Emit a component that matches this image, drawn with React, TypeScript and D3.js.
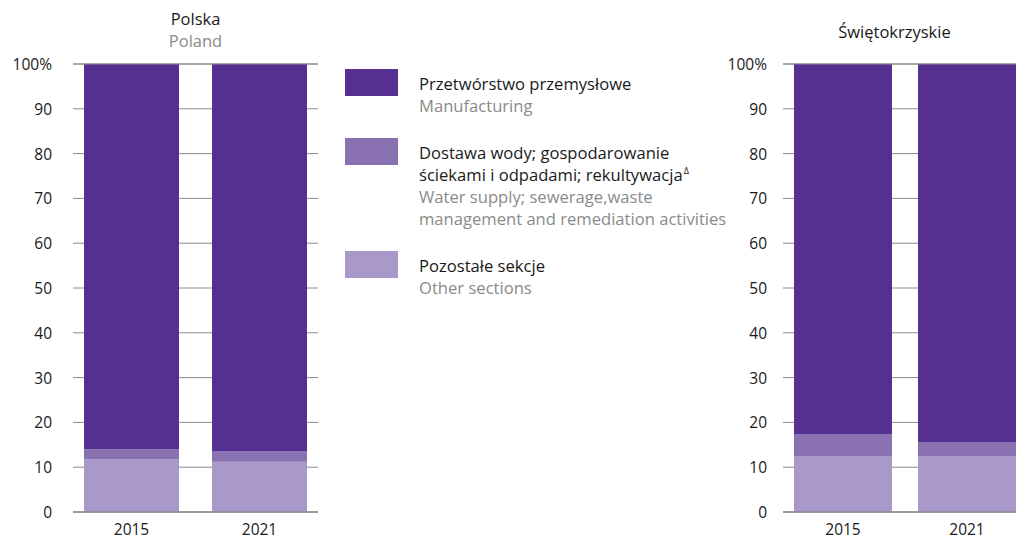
import React from "react";
import * as d3 from "d3";

const categories = ["2015", "2021"];
const seriesKeys = ["other", "water", "manufacturing"];
const polskaOther = [11.8, 11.2];
const polskaWater = [2.2, 2.4];
const polskaManufacturing = [86.0, 86.4];
const swietokrzyskieOther = [12.5, 12.5];
const swietokrzyskieWater = [4.8, 3.1];
const swietokrzyskieManufacturing = [82.7, 84.4];
const yTicks = [0, 10, 20, 30, 40, 50, 60, 70, 80, 90, 100];
const tickLabels = ["0", "10", "20", "30", "40", "50", "60", "70", "80", "90", "100%"];

const legendItems = [
  { key: "manufacturing", pl: ["Przetwórstwo przemysłowe"], en: ["Manufacturing"] },
  {
    key: "water",
    pl: ["Dostawa wody; gospodarowanie", "ściekami i odpadami; rekultywacja"],
    en: ["Water supply; sewerage,waste", "management and remediation activities"],
  },
  { key: "other", pl: ["Pozostałe sekcje"], en: ["Other sections"] },
];

const colors: Record<string, string> = {
  manufacturing: "#553090",
  water: "#8a72b2",
  other: "#a998ca",
};

const FONT = "'Open Sans', 'Noto Sans', sans-serif";
const GRID = "#8c8c8c";
const GREY_TEXT = "#8a8a8a";
const TEXT = "#1a1a1a";

function buildRows(other: number[], water: number[], manuf: number[]) {
  return categories.map((c, i) => ({
    cat: c,
    other: other[i],
    water: water[i],
    manufacturing: manuf[i],
  }));
}

const y = d3.scaleLinear().domain([0, 100]).range([512, 64]);

function Panel({
  rows,
  r0,
  r1,
  paddingInner,
  paddingOuter,
  labelX,
}: {
  rows: any[];
  r0: number;
  r1: number;
  paddingInner: number;
  paddingOuter: number;
  labelX: number;
}) {
  const x = d3
    .scaleBand()
    .domain(categories)
    .range([r0, r1])
    .paddingInner(paddingInner)
    .paddingOuter(paddingOuter);
  const stacked = d3.stack().keys(seriesKeys)(rows as any);
  return (
    <g>
      {yTicks.map((t) => (
        <line key={t} x1={r0} x2={r1} y1={y(t)} y2={y(t)} stroke={GRID} strokeWidth={1} />
      ))}
      {stacked.map((s: any) => (
        <g key={s.key} fill={colors[s.key]}>
          {s.map((d: any, i: number) => (
            <rect
              key={i}
              x={x(d.data.cat)}
              width={x.bandwidth()}
              y={y(d[1])}
              height={y(d[0]) - y(d[1])}
            />
          ))}
        </g>
      ))}
      <line x1={r0} x2={r1} y1={y(0)} y2={y(0)} stroke={GRID} strokeWidth={1.5} />
      <line x1={r0} x2={r1} y1={y(100)} y2={y(100)} stroke={GRID} strokeWidth={1} />
      {yTicks.map((t, i) => (
        <text
          key={t}
          x={labelX}
          y={y(t) + 6}
          textAnchor="end"
          fontSize={15.5}
          fill={TEXT}
        >
          {tickLabels[i]}
        </text>
      ))}
      {categories.map((c) => (
        <text
          key={c}
          x={(x(c) as number) + x.bandwidth() / 2}
          y={535}
          textAnchor="middle"
          fontSize={15.5}
          fill={TEXT}
        >
          {c}
        </text>
      ))}
    </g>
  );
}

export default function App() {
  const polska = buildRows(polskaOther, polskaWater, polskaManufacturing);
  const swiet = buildRows(swietokrzyskieOther, swietokrzyskieWater, swietokrzyskieManufacturing);
  const legendTops = [69, 138, 251];
  return (
    <svg
      width={1016}
      height={537}
      style={{ position: "absolute", left: 0, top: 0, background: "#fff" }}
      fontFamily={FONT}
    >
      <Panel rows={polska} r0={73} r1={318} paddingInner={33 / 128} paddingOuter={11 / 128} labelX={52} />
      <Panel rows={swiet} r0={783} r1={1027} paddingInner={26 / 124} paddingOuter={11 / 124} labelX={767} />

      <text x={195.5} y={25} textAnchor="middle" fontSize={16.5} fill={TEXT}>
        Polska
      </text>
      <text x={195.5} y={47} textAnchor="middle" fontSize={16.5} fill={GREY_TEXT}>
        Poland
      </text>
      <text x={894.5} y={38} textAnchor="middle" fontSize={16.5} fill={TEXT}>
        Świętokrzyskie
      </text>

      {legendItems.map((item, i) => {
        const top = legendTops[i];
        const lines = [
          ...item.pl.map((t) => ({ t, c: TEXT })),
          ...item.en.map((t) => ({ t, c: GREY_TEXT })),
        ];
        return (
          <g key={item.key}>
            <rect x={345} y={top} width={53} height={27} fill={colors[item.key]} />
            {lines.map((l, j) => (
              <text key={j} x={419} y={top + 21 + j * 22} fontSize={16.6} fill={l.c}>
                {l.t}
                {item.key === "water" && j === 1 ? (
                  <tspan fontSize={9} dy={-7} dx={1}>
                    Δ
                  </tspan>
                ) : null}
              </text>
            ))}
          </g>
        );
      })}
    </svg>
  );
}
